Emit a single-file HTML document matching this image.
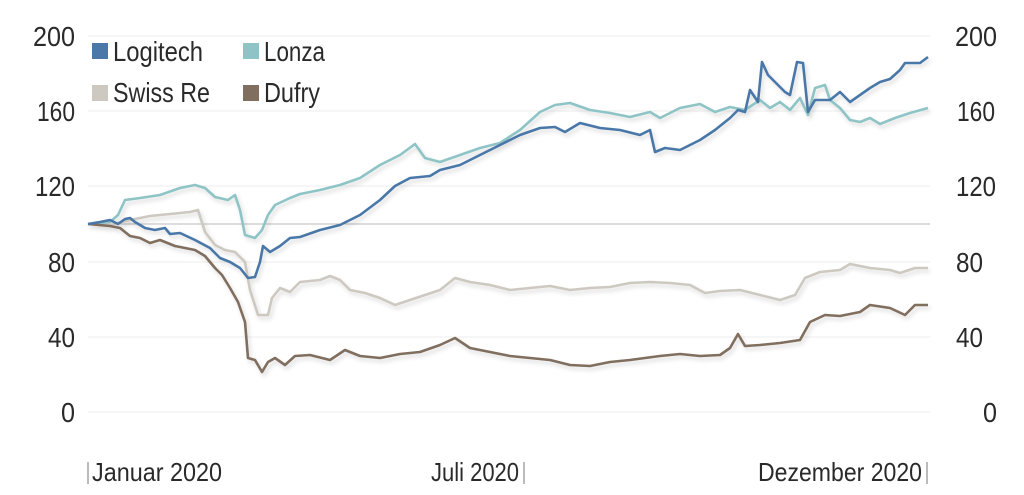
<!DOCTYPE html>
<html><head><meta charset="utf-8"><style>
html,body{margin:0;padding:0;background:#fff;width:1024px;height:495px;overflow:hidden}
svg text{font-family:"Liberation Sans Narrow","Liberation Sans",sans-serif;fill:#2a2a2a}
</style></head><body>
<svg width="1024" height="495" viewBox="0 0 1024 495">
<defs><filter id="sh" x="-5%" y="-5%" width="110%" height="115%"><feDropShadow dx="2" dy="3" stdDeviation="2" flood-color="#000" flood-opacity="0.15"/></filter></defs>
<g stroke="#eeeeee" stroke-width="1">
<line x1="88" y1="36" x2="930" y2="36"/><line x1="88" y1="111" x2="930" y2="111"/><line x1="88" y1="186" x2="930" y2="186"/><line x1="88" y1="262" x2="930" y2="262"/><line x1="88" y1="337" x2="930" y2="337"/><line x1="88" y1="412" x2="930" y2="412"/>
</g>
<line x1="88" y1="224" x2="930" y2="224" stroke="#bbb" stroke-width="1"/>
<g font-size="28" lengthAdjust="spacingAndGlyphs">
<text x="33" y="46" textLength="42" lengthAdjust="spacingAndGlyphs">200</text>
<text x="37" y="121" textLength="38" lengthAdjust="spacingAndGlyphs">160</text>
<text x="35" y="196" textLength="40" lengthAdjust="spacingAndGlyphs">120</text>
<text x="48" y="272" textLength="27" lengthAdjust="spacingAndGlyphs">80</text>
<text x="48" y="347" textLength="27" lengthAdjust="spacingAndGlyphs">40</text>
<text x="61" y="422" textLength="14" lengthAdjust="spacingAndGlyphs">0</text>
<text x="955" y="46" textLength="42" lengthAdjust="spacingAndGlyphs">200</text>
<text x="957" y="121" textLength="38" lengthAdjust="spacingAndGlyphs">160</text>
<text x="956" y="196" textLength="40" lengthAdjust="spacingAndGlyphs">120</text>
<text x="956" y="272" textLength="27" lengthAdjust="spacingAndGlyphs">80</text>
<text x="956" y="347" textLength="27" lengthAdjust="spacingAndGlyphs">40</text>
<text x="983" y="422" textLength="14" lengthAdjust="spacingAndGlyphs">0</text>
</g>
<g font-size="26">
<text x="92" y="481" textLength="130" lengthAdjust="spacingAndGlyphs">Januar 2020</text>
<text x="431" y="481" textLength="88" lengthAdjust="spacingAndGlyphs">Juli 2020</text>
<text x="758" y="481" textLength="164" lengthAdjust="spacingAndGlyphs">Dezember 2020</text>
</g>
<g stroke="#777" stroke-width="1"><line x1="88" y1="462" x2="88" y2="484"/><line x1="524" y1="462" x2="524" y2="484"/><line x1="927" y1="462" x2="927" y2="484"/></g>
<g fill="none" stroke-width="2.6" stroke-linejoin="round" filter="url(#sh)">
<polyline stroke="#cdc9c1" points="88,224 110,225 130,220 150,216 170,214 190,212 198,210 205,232 215,245 225,250 235,252 245,262 250,290 258,315 268,315 272,298 280,288 290,292 300,282 320,280 330,276 340,280 350,290 365,293 380,298 395,305 410,300 425,295 440,290 455,278 470,282 490,285 510,290 530,288 550,286 570,290 590,288 610,287 630,283 650,282 670,283 690,285 705,293 720,291 740,290 760,295 780,300 795,295 805,278 820,272 840,270 850,264 870,268 890,270 900,273 915,268 928,268"/>
<polyline stroke="#8ec4c6" points="88,224 110,222 118,215 125,200 140,198 160,195 180,188 195,185 205,188 215,197 228,200 235,195 240,210 245,235 255,238 262,230 268,215 275,205 290,198 300,194 320,190 340,185 360,178 380,165 400,155 415,144 425,158 440,162 460,155 480,148 500,143 520,130 540,112 555,105 570,103 590,110 610,113 630,117 650,112 660,118 680,108 700,104 715,112 730,107 745,110 760,100 770,108 780,102 790,110 800,98 808,115 815,88 825,85 830,100 840,108 850,120 860,122 870,118 880,124 895,118 910,113 928,108"/>
<polyline stroke="#806e5e" points="88,224 110,226 120,228 130,236 140,238 150,243 160,240 175,246 195,250 205,256 215,268 222,275 230,288 238,302 245,322 248,358 255,360 262,372 268,362 275,358 285,365 295,356 310,355 330,360 345,350 360,356 380,358 400,354 420,352 440,345 455,338 470,348 490,352 510,356 530,358 550,360 570,365 590,366 610,362 630,360 660,356 680,354 700,356 720,355 730,348 738,334 745,346 760,345 780,343 800,340 810,322 825,315 840,316 860,312 870,305 890,308 905,315 915,305 928,305"/>
<polyline stroke="#4a78a8" points="88,224 100,222 110,220 118,224 125,219 130,218 135,222 145,228 155,230 165,228 170,234 180,233 195,240 210,248 220,258 230,262 240,268 248,278 255,277 260,262 263,246 270,252 280,246 290,238 300,237 320,230 340,225 360,215 380,200 395,186 410,178 430,176 440,170 460,165 480,155 500,145 520,135 540,128 555,127 565,132 580,123 600,128 620,130 640,135 650,130 655,152 665,148 680,150 700,140 715,130 730,118 738,110 745,112 750,90 758,102 762,62 768,75 775,82 785,92 790,95 797,62 803,63 808,112 815,100 830,100 840,92 850,102 860,95 870,88 880,82 890,79 900,70 905,63 920,63 928,57"/>
</g>
<g font-size="28">
<rect x="92" y="43" width="16" height="16" fill="#4a78a8"/><text x="113" y="61" textLength="90" lengthAdjust="spacingAndGlyphs">Logitech</text>
<rect x="243" y="43" width="16" height="16" fill="#8ec4c6"/><text x="264" y="61" textLength="61" lengthAdjust="spacingAndGlyphs">Lonza</text>
<rect x="92" y="85" width="16" height="16" fill="#cdc9c1"/><text x="113" y="102" textLength="97" lengthAdjust="spacingAndGlyphs">Swiss Re</text>
<rect x="243" y="85" width="16" height="16" fill="#806e5e"/><text x="264" y="102" textLength="56" lengthAdjust="spacingAndGlyphs">Dufry</text>
</g>
</svg>
</body></html>
